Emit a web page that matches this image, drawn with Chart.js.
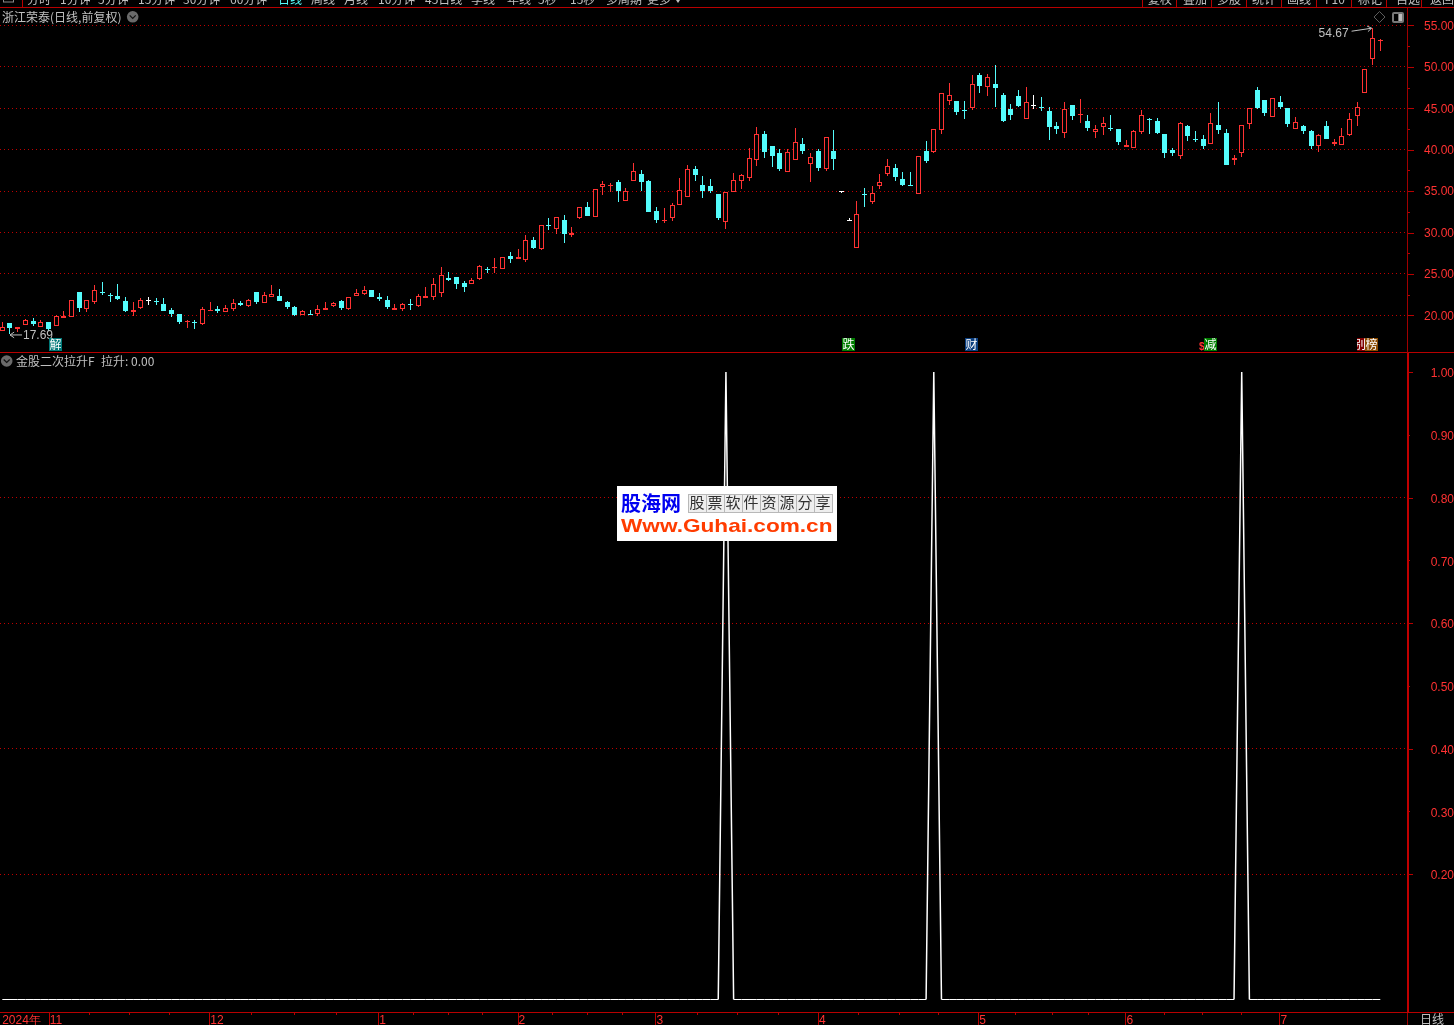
<!DOCTYPE html>
<html><head><meta charset="utf-8">
<style>html,body{margin:0;padding:0;background:#000;overflow:hidden}canvas{display:block}</style>
<script src="https://cdn.jsdelivr.net/npm/chart.js@4"></script>
</head><body><canvas id="c" width="1454" height="1025"></canvas>
<script>
const opens=[18.15,19.11,18.31,18.79,19.36,18.63,19.19,18.75,19.72,19.84,
22.82,20.80,21.61,22.82,22.46,22.34,21.69,20.44,20.88,21.78,
21.69,21.37,20.64,20.16,19.15,19.19,18.99,20.56,20.76,20.44,
20.80,21.49,21.09,22.78,21.53,22.26,22.34,21.57,20.96,20.00,
20.12,20.20,20.68,21.17,21.69,20.76,22.30,22.62,23.06,22.18,
21.81,20.68,20.80,21.37,21.09,22.06,22.18,22.66,24.51,24.63,
23.91,23.75,24.43,25.60,25.68,25.64,27.13,26.84,26.72,29.10,
28.05,30.91,30.38,31.51,29.74,31.79,33.08,31.91,35.54,35.58,
36.10,33.85,36.26,37.06,36.22,32.60,31.39,31.79,33.36,34.33,
37.67,35.74,35.62,34.65,31.31,34.93,36.26,36.62,38.80,41.85,
40.44,39.60,37.35,38.80,40.69,38.31,39.84,37.67,39.84,34.87,
31.40,28.17,34.65,33.72,35.66,37.06,37.79,36.42,35.74,34.69,
39.84,39.72,42.42,45.92,45.88,44.75,44.99,49.02,47.61,47.89,
46.60,44.91,46.48,43.70,45.33,45.15,44.67,42.86,42.01,45.39,
44.19,43.46,42.13,42.74,42.62,42.50,40.32,40.20,42.13,43.66,
43.46,41.89,39.96,39.24,42.86,41.25,41.29,40.69,42.98,42.01,
38.75,39.60,43.14,47.21,46.00,43.95,45.76,45.03,42.50,42.86,
42.26,40.44,42.86,40.69,40.57,41.77,44.11,46.84,50.95,53.08];
const highs=[19.23,19.11,18.55,19.52,19.72,19.44,19.23,20.04,20.52,21.85,
22.82,21.85,23.66,24.03,22.66,23.79,22.22,21.65,22.06,22.26,
22.06,22.10,20.84,20.16,19.40,19.44,20.96,21.61,21.13,21.25,
21.98,21.69,21.98,22.82,22.78,23.66,23.18,21.73,21.13,20.60,
20.60,21.25,21.57,21.65,21.85,22.22,23.14,23.54,23.06,22.70,
22.34,21.41,21.53,21.98,22.54,23.38,24.47,25.84,25.23,24.63,
24.15,24.47,26.04,25.84,26.92,27.00,27.61,28.01,29.66,29.42,
30.87,31.71,31.83,32.12,30.63,33.04,33.68,35.21,36.18,36.02,
36.30,35.33,38.35,37.51,36.34,33.04,32.92,33.52,36.58,38.15,
38.03,36.82,36.46,34.65,34.89,37.19,37.06,40.16,42.74,42.26,
40.44,40.08,40.04,42.58,41.41,39.64,40.04,41.49,42.38,34.89,
31.71,33.81,35.37,35.62,37.06,38.88,38.27,37.31,37.31,39.20,
41.05,42.46,46.80,48.01,45.88,45.88,49.02,49.22,49.14,50.22,
46.80,45.52,47.21,47.57,46.60,46.36,45.15,43.34,45.76,45.39,
46.12,44.19,42.98,43.95,44.19,42.50,41.17,42.34,44.79,43.82,
43.82,41.89,40.20,43.34,42.98,42.26,41.77,44.43,45.76,42.50,
39.36,42.98,44.99,47.57,46.00,46.20,46.48,45.03,43.95,42.98,
42.38,41.89,43.46,41.29,42.62,44.43,45.76,49.74,54.67,53.36];
const lows=[18.15,17.69,17.99,18.79,18.71,18.63,18.15,18.75,19.72,19.84,
20.44,20.40,21.37,22.46,21.65,21.85,20.40,19.92,20.76,21.25,
21.25,20.52,19.84,18.95,18.43,18.35,18.87,20.52,20.32,20.36,
20.56,21.13,21.05,21.37,21.53,22.26,21.73,20.76,19.96,20.00,
20.04,19.96,20.68,21.05,20.64,20.68,22.30,22.50,22.26,21.69,
20.76,20.68,20.56,20.68,20.96,22.06,21.89,22.26,24.19,23.22,
22.86,23.75,24.31,25.11,25.11,25.64,26.32,26.84,26.44,28.01,
27.93,30.30,29.82,28.74,29.50,31.59,31.99,31.91,34.53,34.89,
33.68,33.85,36.26,35.01,32.48,31.15,31.19,31.39,33.36,34.33,
36.22,34.17,34.77,31.51,30.42,34.93,35.25,36.22,38.07,39.00,
37.91,37.43,37.35,38.80,39.48,36.10,37.43,37.43,37.55,34.85,
31.35,28.17,33.08,33.44,35.25,36.82,36.22,35.62,35.66,34.69,
38.39,39.60,41.89,45.39,44.19,43.70,44.79,46.84,46.48,45.15,
43.34,43.58,45.15,43.70,44.91,44.67,41.17,41.89,41.41,43.58,
43.22,42.26,41.41,41.77,42.26,40.57,40.32,40.20,41.89,41.89,
41.89,39.00,39.24,38.88,41.05,40.93,40.08,40.69,41.89,38.15,
38.15,39.12,42.50,44.91,44.07,43.95,44.91,42.74,42.50,41.89,
40.08,39.72,41.29,40.44,40.57,41.65,42.86,46.84,50.22,51.91];
const closes=[18.55,18.43,18.55,19.44,18.95,19.19,18.35,19.96,19.92,21.81,
20.88,21.81,23.02,22.66,22.34,22.02,20.56,20.64,21.81,21.78,
21.57,20.52,20.16,19.19,19.36,19.11,20.72,20.68,20.56,20.84,
21.45,21.29,21.81,21.65,22.42,22.62,21.73,21.05,20.04,20.56,
20.04,20.80,20.84,21.45,20.88,22.18,22.66,23.02,22.26,21.98,
21.01,20.84,21.33,21.25,22.30,22.34,23.83,24.83,24.27,23.83,
23.46,24.23,25.92,25.48,25.80,27.00,26.80,27.00,29.06,28.13,
30.87,30.79,31.83,29.82,29.98,33.04,31.99,35.21,35.82,35.74,
35.05,34.97,37.39,36.14,32.48,31.51,31.51,33.28,35.09,37.63,
36.94,35.05,35.01,31.75,34.89,36.30,36.90,38.96,41.85,39.72,
39.24,37.67,39.68,40.89,39.84,39.08,37.79,41.49,38.88,34.87,
31.40,32.20,34.57,34.73,36.06,37.99,36.70,35.74,35.66,39.20,
38.63,42.46,46.80,46.56,44.55,44.67,47.89,47.69,48.73,47.45,
43.46,44.19,45.27,45.76,45.33,45.03,42.74,42.50,44.91,44.07,
44.31,42.62,42.50,43.18,42.50,40.93,40.57,42.22,44.15,43.54,
41.97,39.60,39.60,43.22,41.65,41.17,40.44,43.22,42.38,38.15,
38.96,42.94,44.99,44.99,44.43,46.20,45.15,43.10,43.30,42.26,
40.44,41.73,41.29,40.93,41.65,43.70,45.11,49.74,53.44,53.24];
const riseValues=opens.map((_,i)=>[94,121,161].includes(i)?1:0);
const priceTicks=[55,52.5,50,47.5,45,42.5,40,37.5,35,32.5,30,27.5,25,22.5,20];
const riseTicks=[1,0.9,0.8,0.7,0.6,0.5,0.4,0.3,0.2];
const monthTicks=[-0.15,6.03,26.89,48.83,66.94,84.85,105.95,126.79,145.9,165.9];
const monthLabels=['2024年','11','12','1','2','3','4','5','6','7'];
const minorTicks=[11.22,16.46,21.65,32.31,37.89,43.35,53.35,57.9,62.3,71.46,75.9,80.46,90.19,95.43,100.75,111.14,116.43,121.55,131.59,136.4,141.07,150.95,155.89,160.95];
const toolbarLeft=[['分时',27],['1分钟',60],['5分钟',98],['15分钟',138],['30分钟',183],['60分钟',230],['日线',278],['周线',311],['月线',344],['10分钟',378],['45日线',425],['季线',471],['年线',507],['5秒',538],['15秒',570],['多周期',606],['更多',647]];
const toolbarRight=[['复权',1148],['叠加',1183],['多股',1217],['统计',1252],['画线',1287],['F10',1325],['标记',1358],['自选',1396],['返回',1430]];
const toolbarSeps=[22,1142,1176,1211,1246,1281,1316,1351,1386,1421];

const RED='#ff3232',CYAN='#54fcfc',WHITE='#ffffff',FRAME='#b80000',TEXT='#c0c0c0';
const CJK='"Noto Sans CJK SC","Liberation Sans",sans-serif';
const candleColor=i=>closes[i]>opens[i]?RED:closes[i]<opens[i]?CYAN:WHITE;
const idx=opens.map((_,i)=>i);

const snapBars={id:'snapBars',beforeDatasetsDraw(chart){
  chart.data.datasets.forEach((d,di)=>{
    if(d.type!=='bar')return;
    chart.getDatasetMeta(di).data.forEach(el=>{
      el.x=Math.floor(el.x)+0.5;
      el.y=Math.round(el.y);el.base=Math.round(el.base);
      if(el.y===el.base)el.base=el.y+1;
    });
  });
}};

function txt(ctx,s,x,y,color,font,align){
  ctx.font=font||('12px '+CJK);ctx.fillStyle=color||TEXT;ctx.textAlign=align||'left';ctx.textBaseline='alphabetic';ctx.fillText(s,x,y);
}
function chevronButton(ctx,x,y){
  ctx.fillStyle='#6a6a6a';ctx.beginPath();ctx.arc(x,y,5.8,0,Math.PI*2);ctx.fill();
  ctx.strokeStyle='#101010';ctx.lineWidth=1.2;ctx.beginPath();ctx.moveTo(x-3,y-1.5);ctx.lineTo(x,y+1.5);ctx.lineTo(x+3,y-1.5);ctx.stroke();
}
function badge(ctx,x,w,bg,ch,tx){
  ctx.save();ctx.beginPath();ctx.rect(x,338,w,13);ctx.clip();
  ctx.fillStyle=bg;ctx.fillRect(x,338,w,13);
  txt(ctx,ch,tx===undefined?x+0.5:tx,349,'#ffffff');ctx.restore();
}
function arrow(ctx,x1,y1,x2,y2){
  ctx.strokeStyle=TEXT;ctx.lineWidth=1;ctx.beginPath();ctx.moveTo(x1,y1);ctx.lineTo(x2,y2);ctx.stroke();
  const a=Math.atan2(y2-y1,x2-x1);
  ctx.beginPath();ctx.moveTo(x2-5*Math.cos(a-0.6),y2-5*Math.sin(a-0.6));ctx.lineTo(x2,y2);ctx.lineTo(x2-5*Math.cos(a+0.6),y2-5*Math.sin(a+0.6));ctx.stroke();
}
const chrome={id:'chrome',afterDraw(chart){
  const ctx=chart.ctx,x=chart.scales.x,ya=chart.scales.yA,yb=chart.scales.yB;
  ctx.save();
  ctx.fillStyle=FRAME;
  ctx.fillRect(0,7,1454,1);ctx.fillRect(0,352,1454,1);ctx.fillRect(0,1012,1454,1);
  toolbarSeps.forEach(s=>ctx.fillRect(s,0,1,7));
  ctx.fillStyle='#a00000';ctx.fillRect(1407,8,1,345);ctx.fillRect(1407,1013,1,12);
  ctx.fillStyle='#c00000';ctx.fillRect(1407,353,2,660);
  ctx.fillStyle=FRAME;
  priceTicks.forEach(v=>{const p=Math.round(ya.getPixelForValue(v));ctx.fillRect(1408,p,v%5===0?6:2,1);});
  riseTicks.forEach(v=>{const p=Math.round(yb.getPixelForValue(v));ctx.fillRect(1408,p,Math.round(v*10)%2===0?5:2,1);});
  minorTicks.forEach(v=>ctx.fillRect(Math.round(x.getPixelForValue(v)),1013,1,2));
  monthTicks.forEach((v,i)=>{if(i>0)ctx.fillRect(Math.round(x.getPixelForValue(v)),1013,1,12);});
  toolbarLeft.forEach(([s,px])=>txt(ctx,s,px,4,s==='日线'?CYAN:TEXT));
  toolbarRight.forEach(([s,px])=>txt(ctx,s,px,4,TEXT));
  ctx.strokeStyle='#8a8a8a';ctx.lineWidth=1;ctx.strokeRect(3.5,-4,10,6);
  ctx.fillStyle=TEXT;ctx.beginPath();ctx.moveTo(676,0);ctx.lineTo(680,0);ctx.lineTo(678,3);ctx.closePath();ctx.fill();
  txt(ctx,'浙江荣泰(日线,前复权)',2,22);
  chevronButton(ctx,132.7,16.8);
  chevronButton(ctx,6.7,361);
  txt(ctx,'金股二次拉升F',16,366);
  txt(ctx,'拉升: 0.00',101,366);
  txt(ctx,'日线',1420,1024);
  const hi=highs.indexOf(Math.max(...highs)),lo=lows.indexOf(Math.min(...lows));
  const numFont='12px "Liberation Sans",sans-serif';
  const hx=x.getPixelForValue(hi),hy=ya.getPixelForValue(highs[hi]);
  txt(ctx,highs[hi].toFixed(2),hx-54,hy+9,TEXT,numFont);
  arrow(ctx,hx-21,hy+3,hx-1,hy);
  const lx=x.getPixelForValue(lo),ly=ya.getPixelForValue(lows[lo]);
  txt(ctx,lows[lo].toFixed(2),lx+13,ly+5,TEXT,numFont);
  arrow(ctx,lx+12,ly+0.5,lx,ly+0.5);
  badge(ctx,49,13,'#007878','解');
  badge(ctx,842,13,'#007c00','跌');
  badge(ctx,965,13,'#0b3f80','财');
  txt(ctx,'$',1199,350,RED,'bold 10px "Liberation Sans",sans-serif');
  badge(ctx,1204,13,'#007c00','减');
  badge(ctx,1357,8,'#800000','别',1354);
  badge(ctx,1365,13,'#8a4a00','榜');
  ctx.strokeStyle='#5c5c5c';ctx.lineWidth=1;ctx.beginPath();ctx.moveTo(1379.5,11.5);ctx.lineTo(1385,17);ctx.lineTo(1379.5,22.5);ctx.lineTo(1374,17);ctx.closePath();ctx.stroke();
  ctx.fillStyle='#777';ctx.beginPath();ctx.roundRect(1392,12,12,11,2);ctx.fill();
  ctx.fillStyle='#000';ctx.fillRect(1394,14,4,7);ctx.fillStyle='#bbb';ctx.fillRect(1399,14,3,7);
  ctx.fillStyle='#fff';ctx.fillRect(617,486,220,55);
  txt(ctx,'股海网',621,511,'#0000f0','bold 20px '+CJK);
  ctx.fillStyle='#eeeeee';ctx.fillRect(688,494,144,18);
  ctx.strokeStyle='#b8b8b8';ctx.lineWidth=1;ctx.strokeRect(688.5,494.5,144,18);
  '股票软件资源分享'.split('').forEach((c,i)=>{
    if(i){ctx.beginPath();ctx.moveTo(688.5+18*i,494);ctx.lineTo(688.5+18*i,512);ctx.stroke();}
    txt(ctx,c,688+18*i+9,508,'#303030','15px '+CJK,'center');
  });
  ctx.save();ctx.translate(621,532);ctx.scale(1.19,1);
  txt(ctx,'Www.Guhai.com.cn',0,0,'#ff3c00','bold 19px "Liberation Sans",sans-serif');
  ctx.restore();
  ctx.restore();
}};

const tickFont={family:'"Liberation Sans",sans-serif',size:12};
const yCommon={position:'right',stack:'panels',border:{display:false,dash:[1,3]},
  afterFit(s){s.width=46;s.paddingTop=0;s.paddingBottom=0;}};
new Chart(document.getElementById('c'),{
  data:{datasets:[
    {type:'bar',label:'实体',xAxisID:'x',yAxisID:'yA',order:1,grouped:false,
     data:idx.map(i=>({x:i,y:[opens[i],closes[i]]})),
     barThickness:5,minBarLength:1,inflateAmount:0,borderSkipped:false,borderWidth:1,
     borderColor:idx.map(candleColor),
     backgroundColor:idx.map(i=>closes[i]>opens[i]?'#000000':candleColor(i))},
    {type:'bar',label:'影线',xAxisID:'x',yAxisID:'yA',order:2,grouped:false,
     data:idx.map(i=>({x:i,y:[lows[i],highs[i]]})),
     barThickness:1,inflateAmount:0,borderWidth:0,
     backgroundColor:idx.map(candleColor)},
    {type:'line',label:'拉升',xAxisID:'x',yAxisID:'yB',order:3,
     data:idx.map(i=>({x:i,y:riseValues[i]})),
     borderColor:'#ffffff',borderWidth:1,pointRadius:0,tension:0,fill:false,
     segment:{borderWidth:c=>c.p0.parsed.y!==c.p1.parsed.y?1.5:1}}
  ]},
  options:{
    responsive:false,animation:false,events:[],
    layout:{autoPadding:false,padding:{top:8,left:0,right:0,bottom:0}},
    plugins:{legend:{display:false},tooltip:{enabled:false},title:{display:false}},
    scales:{
      x:{type:'linear',position:'bottom',offset:false,min:-0.2988,max:182.6,
        border:{display:false},grid:{display:false,drawTicks:false},
        afterFit(s){s.height=13;s.paddingLeft=0;s.paddingRight=0;},
        afterBuildTicks(s){s.ticks=monthTicks.concat(minorTicks).map(v=>({value:v}));},
        ticks:{autoSkip:false,maxRotation:0,align:'start',labelOffset:1,padding:1,color:RED,font:tickFont,
          callback(v){const k=monthTicks.indexOf(v);return k>=0?monthLabels[k]:'';}}},
      yA:{...yCommon,stackWeight:344,weight:1,min:15.57,max:57.11,
        afterBuildTicks(s){s.ticks=priceTicks.map(v=>({value:v}));},
        grid:{drawTicks:false,color:c=>c.tick&&c.tick.value%5===0?'#c00000':'transparent'},
        ticks:{autoSkip:false,padding:14,crossAlign:'far',labelOffset:1,color:RED,font:tickFont,
          callback:v=>v%5===0?v.toFixed(2):''}},
      yB:{...yCommon,stackWeight:660,weight:2,min:-0.0199,max:1.0319,
        afterBuildTicks(s){s.ticks=riseTicks.map(v=>({value:v}));},
        grid:{drawTicks:false,color:c=>c.tick&&Math.round(c.tick.value*10)%2===0&&c.tick.value<1?'#c00000':'transparent'},
        ticks:{autoSkip:false,padding:14,crossAlign:'far',labelOffset:2,color:RED,font:tickFont,
          callback:v=>v.toFixed(2)}}
    }
  },
  plugins:[snapBars,chrome]
});
</script></body></html>
